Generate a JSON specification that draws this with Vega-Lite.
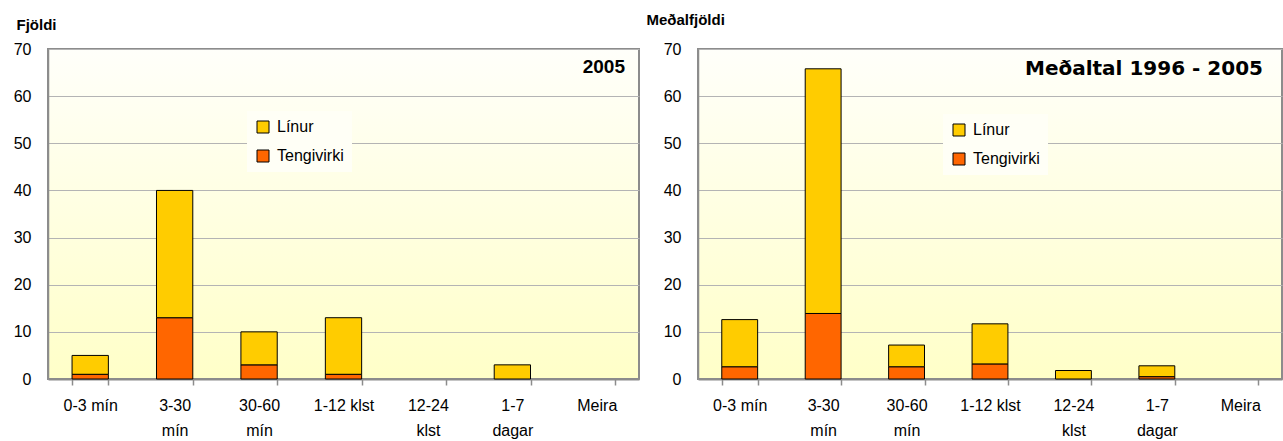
{
  "$schema": "https://vega.github.io/schema/vega-lite/v6.json",
  "background": "white",
  "autosize": {"type": "pad"},
  "padding": {"left": 12, "top": 11, "right": 2, "bottom": 0},
  "datasets": {
    "ar2005": [
      {"bil": "0-3 mín", "flokkur": "Tengivirki", "fjoldi": 1},
      {"bil": "0-3 mín", "flokkur": "Línur", "fjoldi": 4},
      {"bil": "3-30 mín", "flokkur": "Tengivirki", "fjoldi": 13},
      {"bil": "3-30 mín", "flokkur": "Línur", "fjoldi": 27},
      {"bil": "30-60 mín", "flokkur": "Tengivirki", "fjoldi": 3},
      {"bil": "30-60 mín", "flokkur": "Línur", "fjoldi": 7},
      {"bil": "1-12 klst", "flokkur": "Tengivirki", "fjoldi": 1},
      {"bil": "1-12 klst", "flokkur": "Línur", "fjoldi": 12},
      {"bil": "1-7 dagar", "flokkur": "Línur", "fjoldi": 3}
    ],
    "medaltal": [
      {"bil": "0-3 mín", "flokkur": "Tengivirki", "fjoldi": 2.6},
      {"bil": "0-3 mín", "flokkur": "Línur", "fjoldi": 10.0},
      {"bil": "3-30 mín", "flokkur": "Tengivirki", "fjoldi": 13.9},
      {"bil": "3-30 mín", "flokkur": "Línur", "fjoldi": 51.9},
      {"bil": "30-60 mín", "flokkur": "Tengivirki", "fjoldi": 2.6},
      {"bil": "30-60 mín", "flokkur": "Línur", "fjoldi": 4.6},
      {"bil": "1-12 klst", "flokkur": "Tengivirki", "fjoldi": 3.2},
      {"bil": "1-12 klst", "flokkur": "Línur", "fjoldi": 8.5},
      {"bil": "12-24 klst", "flokkur": "Línur", "fjoldi": 1.8},
      {"bil": "1-7 dagar", "flokkur": "Tengivirki", "fjoldi": 0.5},
      {"bil": "1-7 dagar", "flokkur": "Línur", "fjoldi": 2.3}
    ]
  },
  "config": {
    "font": "Liberation Sans",
    "view": {
      "stroke": "#8c8c8c",
      "strokeWidth": 2,
      "fill": {
        "gradient": "linear",
        "x1": 0, "y1": 0, "x2": 0, "y2": 1,
        "stops": [
          {"offset": 0, "color": "#fffffa"},
          {"offset": 1, "color": "#ffffc8"}
        ]
      }
    },
    "axisX": {
      "title": null,
      "labelAngle": 0,
      "labelFont": "Liberation Sans",
      "labelFontSize": 16,
      "labelColor": "#000000",
      "labelBaseline": "top",
      "labelPadding": 12,
      "labelLineHeight": 25,
      "tickBand": "extent",
      "tickColor": "#8c8c8c",
      "tickSize": 6,
      "tickWidth": 1.5,
      "domainColor": "#8c8c8c",
      "domainWidth": 2,
      "grid": false
    },
    "axisY": {
      "values": [0, 10, 20, 30, 40, 50, 60, 70],
      "labelFont": "Liberation Sans",
      "labelFontSize": 16,
      "labelColor": "#000000",
      "labelPadding": 17,
      "ticks": false,
      "domainColor": "#8c8c8c",
      "domainWidth": 1.5,
      "gridColor": "#b4b4b4",
      "gridWidth": 1,
      "titleFont": "Liberation Sans",
      "titleFontSize": 15,
      "titleFontWeight": "bold",
      "titleColor": "#000000",
      "titleAngle": 0,
      "titleAlign": "left",
      "titleBaseline": "alphabetic"
    },
    "legend": {
      "title": null,
      "orient": "none",
      "symbolType": "square",
      "symbolSize": 144,
      "symbolStrokeColor": "#000000",
      "symbolStrokeWidth": 1,
      "labelFont": "Liberation Sans",
      "labelFontSize": 16,
      "labelColor": "#000000",
      "labelOffset": 6,
      "rowPadding": 13,
      "padding": 8,
      "fillColor": "#fffff6"
    }
  },
  "bounds": "flush",
  "spacing": 59,
  "resolve": {"legend": {"color": "independent"}},
  "hconcat": [
    {
      "width": 591,
      "height": 330,
      "data": {"name": "ar2005"},
      "title": {
        "text": "2005",
        "anchor": "end",
        "frame": "group",
        "offset": -60,
        "dx": -14,
        "font": "Liberation Sans",
        "fontSize": 19,
        "fontWeight": "bold",
        "color": "#000000"
      },
      "mark": {"type": "bar", "stroke": "#000000", "strokeWidth": 1},
      "encoding": {
        "x": {
          "field": "bil",
          "type": "nominal",
          "sort": ["0-3 mín", "3-30 mín", "30-60 mín", "1-12 klst", "12-24 klst", "1-7 dagar", "Meira"],
          "scale": {
            "domain": ["0-3 mín", "3-30 mín", "30-60 mín", "1-12 klst", "12-24 klst", "1-7 dagar", "Meira"],
            "paddingInner": 0.57,
            "paddingOuter": 0.285
          },
          "axis": {
            "labelExpr": "indexof(['3-30 mín', '30-60 mín', '12-24 klst', '1-7 dagar'], datum.value) >= 0 ? split(datum.value, ' ') : datum.value"
          }
        },
        "y": {
          "field": "fjoldi",
          "type": "quantitative",
          "stack": "zero",
          "scale": {"domain": [0, 70]},
          "axis": {"title": "Fjöldi", "titleX": -32, "titleY": -20}
        },
        "color": {
          "field": "flokkur",
          "type": "nominal",
          "scale": {"domain": ["Línur", "Tengivirki"], "range": ["#ffcc00", "#ff6600"]},
          "legend": {"legendX": 199, "legendY": 62}
        },
        "order": {"field": "flokkur", "sort": "descending"}
      }
    },
    {
      "width": 584,
      "height": 330,
      "data": {"name": "medaltal"},
      "title": {
        "text": "Meðaltal 1996 - 2005",
        "anchor": "end",
        "frame": "group",
        "offset": -67,
        "dx": -19,
        "font": "DejaVu Sans",
        "fontSize": 20,
        "fontWeight": "bold",
        "color": "#000000"
      },
      "mark": {"type": "bar", "stroke": "#000000", "strokeWidth": 1},
      "encoding": {
        "x": {
          "field": "bil",
          "type": "nominal",
          "sort": ["0-3 mín", "3-30 mín", "30-60 mín", "1-12 klst", "12-24 klst", "1-7 dagar", "Meira"],
          "scale": {
            "domain": ["0-3 mín", "3-30 mín", "30-60 mín", "1-12 klst", "12-24 klst", "1-7 dagar", "Meira"],
            "paddingInner": 0.57,
            "paddingOuter": 0.285
          },
          "axis": {
            "labelExpr": "indexof(['3-30 mín', '30-60 mín', '12-24 klst', '1-7 dagar'], datum.value) >= 0 ? split(datum.value, ' ') : datum.value"
          }
        },
        "y": {
          "field": "fjoldi",
          "type": "quantitative",
          "stack": "zero",
          "scale": {"domain": [0, 70]},
          "axis": {"title": "Meðalfjöldi", "titleX": -52, "titleY": -25}
        },
        "color": {
          "field": "flokkur",
          "type": "nominal",
          "scale": {"domain": ["Línur", "Tengivirki"], "range": ["#ffcc00", "#ff6600"]},
          "legend": {"legendX": 245, "legendY": 65}
        },
        "order": {"field": "flokkur", "sort": "descending"}
      }
    }
  ]
}
